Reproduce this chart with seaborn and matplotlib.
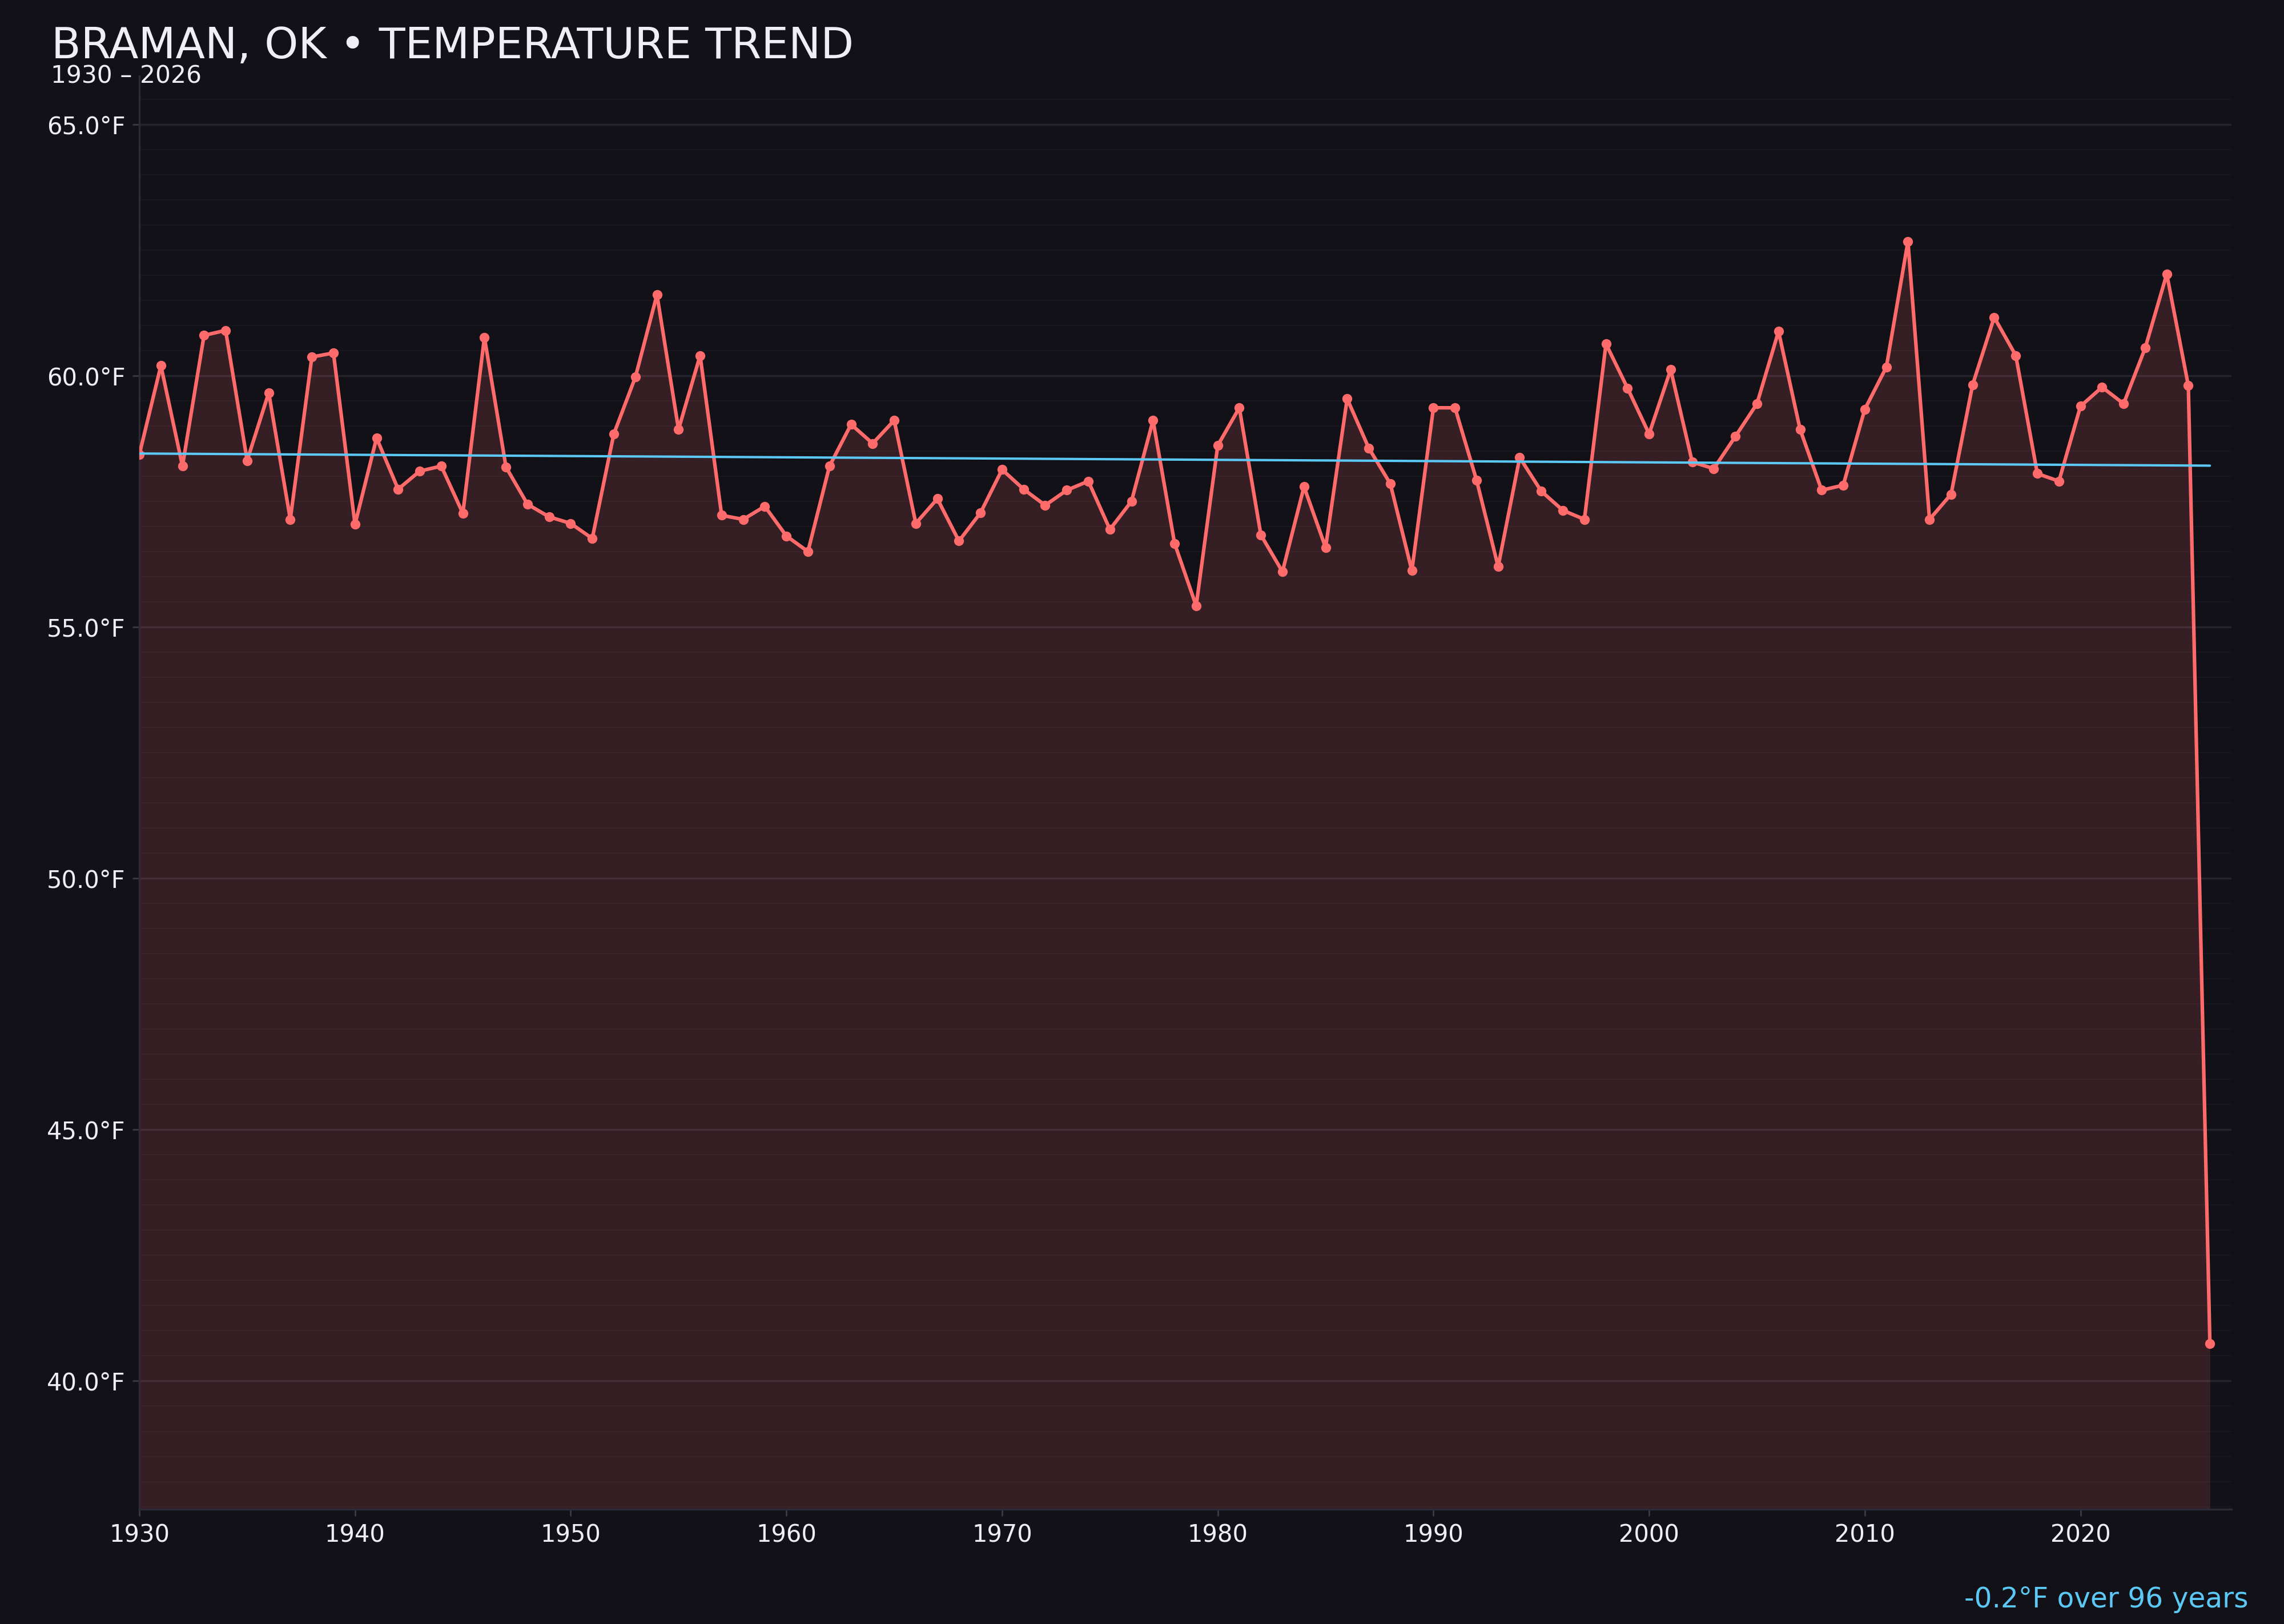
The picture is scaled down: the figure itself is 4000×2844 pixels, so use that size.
import numpy as np
import pandas as pd
import seaborn as sns
import matplotlib
matplotlib.use("Agg")
import matplotlib.pyplot as plt
from matplotlib.ticker import MultipleLocator, FuncFormatter

# annual mean temperature, Braman OK
years = list(range(1930, 2027))
temps = [
    58.43, 60.20, 58.20, 60.80, 60.90, 58.31, 59.66, 57.14, 60.37, 60.45,
    57.04, 58.76, 57.74, 58.10, 58.20, 57.26, 60.76, 58.18, 57.44, 57.19,
    57.06, 56.76, 58.84, 59.97, 61.61, 58.93, 60.40, 57.22, 57.14, 57.40,
    56.81, 56.50, 58.20, 59.03, 58.65, 59.11, 57.06, 57.55, 56.71, 57.27,
    58.13, 57.74, 57.42, 57.72, 57.90, 56.94, 57.50, 59.11, 56.66, 55.42,
    58.61, 59.36, 56.83, 56.10, 57.79, 56.58, 59.54, 58.56, 57.85, 56.12,
    59.36, 59.36, 57.92, 56.20, 58.37, 57.70, 57.32, 57.14, 60.63, 59.75,
    58.84, 60.12, 58.28, 58.15, 58.79, 59.44, 60.88, 58.93, 57.72, 57.82,
    59.33, 60.17, 62.67, 57.14, 57.64, 59.82, 61.16, 60.40, 58.05, 57.90,
    59.39, 59.77, 59.44, 60.55, 62.02, 59.80, 40.74,
]
x_ticks = list(range(1930, 2021, 10))
title = "BRAMAN, OK \u2022 TEMPERATURE TREND"
subtitle = "1930 \u2013 2026"
trend_label = "-0.2\u00b0F over 96 years"

BG = "#121118"
LINE = "#ff6b6b"
TREND = "#5bc8f5"
TXT = "#f0eef5"

df = pd.DataFrame({"year": years, "temp": temps})

# linear trend over the whole record
coef = np.polyfit(df["year"], df["temp"], 1)
df["trend"] = np.polyval(coef, df["year"])

sns.set_theme(style="dark")
plt.rcParams["font.family"] = ["DejaVu Sans"]

fig = plt.figure(figsize=(16, 11.376), dpi=250, facecolor=BG)
ax = fig.add_axes([0.061, 0.0707, 0.916, 0.8825])
ax.set_facecolor(BG)

# padding around data range
lo, hi = df["temp"].min(), df["temp"].max()
pad = (hi - lo) * 0.15
ax.set_ylim(lo - pad, hi + pad)
ax.set_xlim(1930, 2027)

ax.yaxis.set_major_locator(MultipleLocator(5))
ax.yaxis.set_minor_locator(MultipleLocator(0.5))
ax.grid(which="major", axis="y", color="#25242c", linewidth=1.0)
ax.grid(which="minor", axis="y", color="#18171e", linewidth=0.6)
ax.grid(which="both", axis="x", visible=False)
ax.set_axisbelow(True)

ax.fill_between(df["year"], df["temp"], lo - pad, color=LINE, alpha=0.15,
                linewidth=0, zorder=1)
sns.lineplot(data=df, x="year", y="temp", ax=ax, color=LINE, linewidth=1.8,
             marker="o", markersize=5, markeredgewidth=0, zorder=3)
sns.lineplot(data=df, x="year", y="trend", ax=ax, color=TREND, linewidth=1.2,
             zorder=4)

ax.set_xticks(x_ticks)
ax.yaxis.set_major_formatter(FuncFormatter(lambda v, p: f"{v:.1f}\u00b0F"))
ax.tick_params(axis="both", which="major", colors="#3a3944", labelcolor=TXT,
               labelsize=12, length=3.5, width=0.8, left=True, bottom=True)
ax.tick_params(axis="y", which="minor", left=False)
ax.set_xlabel("")
ax.set_ylabel("")

for s in ["top", "right"]:
    ax.spines[s].set_visible(False)
for s in ["left", "bottom"]:
    ax.spines[s].set_visible(True)
    ax.spines[s].set_color("#2c2b35")
    ax.spines[s].set_linewidth(1.0)

fig.text(0.0225, 0.964, title, color=TXT, fontsize=21.7, ha="left",
         va="baseline")
fig.text(0.0222, 0.949, subtitle, color=TXT, fontsize=12.2, ha="left",
         va="baseline")
fig.text(0.9845, 0.0102, trend_label, color=TREND, fontsize=14, ha="right",
         va="baseline")

fig.savefig("out.png", dpi=250, facecolor=BG)
